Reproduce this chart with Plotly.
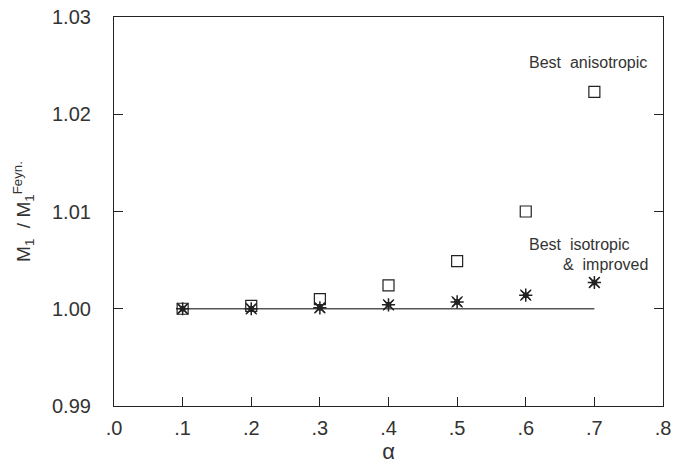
import plotly.graph_objects as go

alpha = [0.1, 0.2, 0.3, 0.4, 0.5, 0.6, 0.7]
aniso = [1.0000, 1.0003, 1.0010, 1.0024, 1.0049, 1.0100, 1.0223]
iso = [1.0000, 1.0000, 1.0001, 1.0004, 1.0007, 1.0014, 1.0027]
improved = [1.0000, 1.0000, 1.0001, 1.0004, 1.0007, 1.0014, 1.0027]
ref_x = [0.1, 0.7]
ref_y = [1.0, 1.0]
xticks = [0.0, 0.1, 0.2, 0.3, 0.4, 0.5, 0.6, 0.7, 0.8]
xticklabels = [".0", ".1", ".2", ".3", ".4", ".5", ".6", ".7", ".8"]
yticks = [0.99, 1.00, 1.01, 1.02, 1.03]
yticklabels = ["0.99", "1.00", "1.01", "1.02", "1.03"]

FONT = "Liberation Sans"
INK = "#222222"
TXT = "#333333"

fig = go.Figure()
fig.add_trace(go.Scatter(x=ref_x, y=ref_y, mode="lines",
                         line=dict(color="#555555", width=1.5), showlegend=False))
fig.add_trace(go.Scatter(x=alpha, y=aniso, mode="markers",
                         marker=dict(symbol="square-open", size=11, color=INK,
                                     line=dict(width=1.2, color=INK)),
                         showlegend=False))
fig.add_trace(go.Scatter(x=alpha, y=iso, mode="markers",
                         marker=dict(symbol="asterisk-open", size=11, color=INK,
                                     line=dict(width=1.5, color=INK)),
                         showlegend=False))
fig.add_trace(go.Scatter(x=alpha, y=improved, mode="markers",
                         marker=dict(symbol="x-thin-open", size=11, color=INK,
                                     line=dict(width=1.2, color=INK)),
                         showlegend=False))
fig.add_trace(go.Scatter(x=alpha, y=improved, mode="markers",
                         marker=dict(symbol="circle", size=6, color=INK),
                         showlegend=False))

fig.add_annotation(x=0.69, y=1.0253, text="Best  anisotropic", showarrow=False,
                   xanchor="center", yanchor="middle",
                   font=dict(family=FONT, size=16, color=TXT))
fig.add_annotation(x=0.7, y=1.0066, text="Best  isotropic", showarrow=False,
                   xanchor="right", yanchor="middle", xshift=37,
                   font=dict(family=FONT, size=16, color=TXT))
fig.add_annotation(x=0.7, y=1.0046, text="&  improved", showarrow=False,
                   xanchor="right", yanchor="middle", xshift=56,
                   font=dict(family=FONT, size=16, color=TXT))

fig.update_layout(
    width=673, height=466,
    margin=dict(l=114, r=10, t=17, b=60),
    plot_bgcolor="white", paper_bgcolor="white",
    font=dict(family=FONT, color=TXT),
    xaxis=dict(range=[0, 0.8], tickvals=xticks, ticktext=xticklabels,
               ticks="inside", ticklen=9, tickcolor=INK, tickwidth=1,
               showline=True, linecolor=INK, linewidth=1.2, mirror=True,
               showgrid=False, zeroline=False, automargin=False,
               ticklabelstandoff=4, ticklabeloverflow="allow",
               tickfont=dict(size=20, family=FONT, color=TXT),
               title=dict(text="α", font=dict(size=22, family=FONT, color=TXT), standoff=4)),
    yaxis=dict(range=[0.99, 1.03], tickvals=yticks, ticktext=yticklabels,
               ticks="inside", ticklen=9, tickcolor=INK, tickwidth=1,
               showline=True, linecolor=INK, linewidth=1.2, mirror="ticks",
               showgrid=False, zeroline=False, automargin=False,
               ticklabelstandoff=18, ticklabeloverflow="allow",
               tickfont=dict(size=20, family=FONT, color=TXT),
               title=dict(text="M<sub>1</sub>  / M<sub>1</sub><sup>Feyn.</sup>",
                          font=dict(size=19, family=FONT, color=TXT), standoff=16)),
)

fig.write_html("out.html")
